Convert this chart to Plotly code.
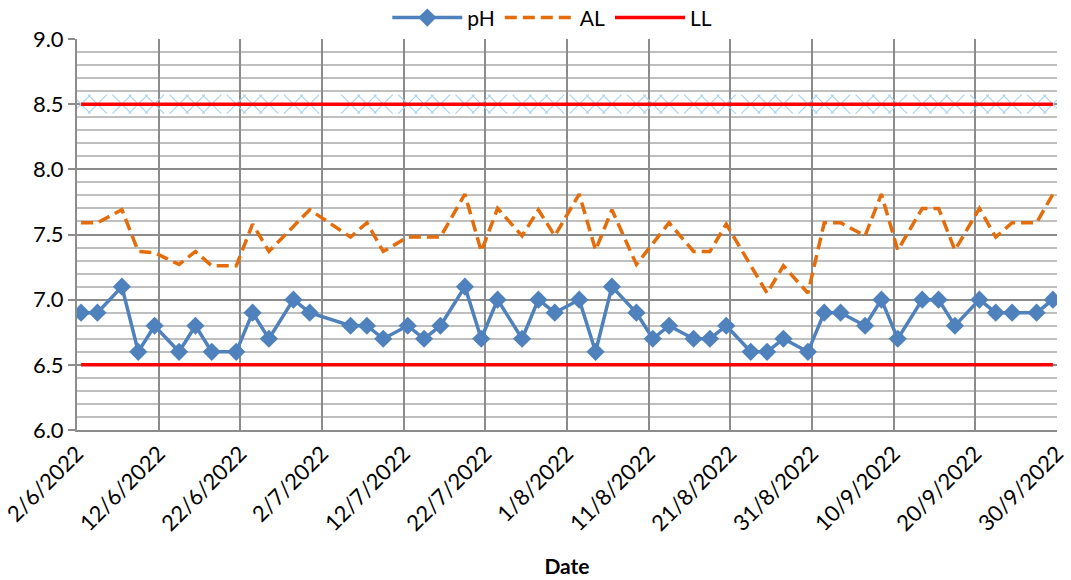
import pandas as pd
import plotly.graph_objects as go

# Sampling days (offset in days from 2 June 2022)
day_offsets = [0, 2, 5, 7, 9, 12, 14, 16, 19, 21, 23, 26, 28, 33, 35, 37, 40, 42, 44, 47,
               49, 51, 54, 56, 58, 61, 63, 65, 68, 70, 72, 75, 77, 79, 82, 84, 86, 89, 91, 93,
               96, 98, 100, 103, 105, 107, 110, 112, 114, 117, 119]

ph_values = [6.9, 6.9, 7.1, 6.6, 6.8, 6.6, 6.8, 6.6, 6.6, 6.9, 6.7, 7.0, 6.9, 6.8, 6.8, 6.7, 6.8, 6.7, 6.8, 7.1,
             6.7, 7.0, 6.7, 7.0, 6.9, 7.0, 6.6, 7.1, 6.9, 6.7, 6.8, 6.7, 6.7, 6.8, 6.6, 6.6, 6.7, 6.6, 6.9, 6.9,
             6.8, 7.0, 6.7, 7.0, 7.0, 6.8, 7.0, 6.9, 6.9, 6.9, 7.0]

al_values = [7.59, 7.59, 7.69, 7.37, 7.36, 7.27, 7.37, 7.26, 7.26, 7.58, 7.37, 7.56, 7.69, 7.48, 7.59, 7.37, 7.48, 7.48, 7.48, 7.81,
             7.37, 7.70, 7.49, 7.69, 7.49, 7.81, 7.38, 7.69, 7.27, 7.43, 7.59, 7.37, 7.37, 7.58, 7.26, 7.05, 7.26, 7.05, 7.59, 7.59,
             7.49, 7.81, 7.38, 7.70, 7.70, 7.38, 7.70, 7.48, 7.59, 7.59, 7.81]

ll_value = 6.5
ul_value = 8.5

start_date = pd.Timestamp("2022-06-02")
end_date = pd.Timestamp("2022-09-30")
tick_dates = pd.date_range(start_date, end_date, freq="10D")
tick_labels = [f"{d.day}/{d.month}/{d.year}" for d in tick_dates]

# Excel date axis places each point in the middle of its day slot
dates = [start_date + pd.Timedelta(days=d, hours=12) for d in day_offsets]

FONT = "Lato, Carlito, 'Liberation Sans', sans-serif"

fig = go.Figure()

fig.add_trace(go.Scatter(
    x=dates, y=[ul_value] * len(dates), mode="markers", showlegend=False,
    marker=dict(symbol="x-thin", size=19, line=dict(color="#A9D3EE", width=1.2)),
    hoverinfo="skip"))
fig.add_trace(go.Scatter(
    x=dates, y=[ul_value] * len(dates), mode="lines", showlegend=False,
    line=dict(color="#FF0000", width=3.5)))

fig.add_trace(go.Scatter(
    x=dates, y=ph_values, name="pH", mode="lines+markers",
    line=dict(color="#4F81BD", width=3.5),
    marker=dict(symbol="diamond", size=14, color="#4F81BD")))
fig.add_trace(go.Scatter(
    x=dates, y=al_values, name="AL", mode="lines",
    line=dict(color="#E46C0A", width=3.5, dash="12px,6px")))
fig.add_trace(go.Scatter(
    x=dates, y=[ll_value] * len(dates), name="LL", mode="lines",
    line=dict(color="#FF0000", width=3.5)))

fig.update_layout(
    width=1071, height=580,
    margin=dict(l=77, r=14, t=39, b=150, autoexpand=False),
    paper_bgcolor="white", plot_bgcolor="white",
    font=dict(family=FONT, size=21, color="black"),
    legend=dict(orientation="h", x=0.485, xanchor="center", y=1.054, yanchor="middle",
                font=dict(size=21), bgcolor="rgba(0,0,0,0)", itemwidth=70,
                tracegroupgap=0),
    showlegend=True,
)

fig.update_xaxes(
    type="date", range=[start_date, end_date], automargin=False,
    tickvals=tick_dates, ticktext=tick_labels, tickangle=-45,
    ticklabeloverflow="allow",
    showgrid=True, gridcolor="#8C8C8C", gridwidth=2,
    showline=True, linecolor="#8C8C8C", linewidth=2, mirror=False,
    ticks="", tickfont=dict(size=22),
    title=dict(text="<b>Date</b>", font=dict(size=21), standoff=24),
    zeroline=False,
)

fig.update_yaxes(
    range=[6.0, 9.0], dtick=0.5, tick0=6.0, tickformat=".1f", automargin=False,
    showgrid=True, gridcolor="#8C8C8C", gridwidth=2,
    minor=dict(dtick=0.1, showgrid=True, gridcolor="#BFBFBF", gridwidth=2),
    showline=True, linecolor="#8C8C8C", linewidth=2,
    ticks="outside", ticklen=7, tickcolor="#8C8C8C", tickwidth=2,
    tickfont=dict(size=22), zeroline=False,
)

fig.write_html("out.html", config={"displayModeBar": False},
               post_script="document.body.style.margin='0px';")
